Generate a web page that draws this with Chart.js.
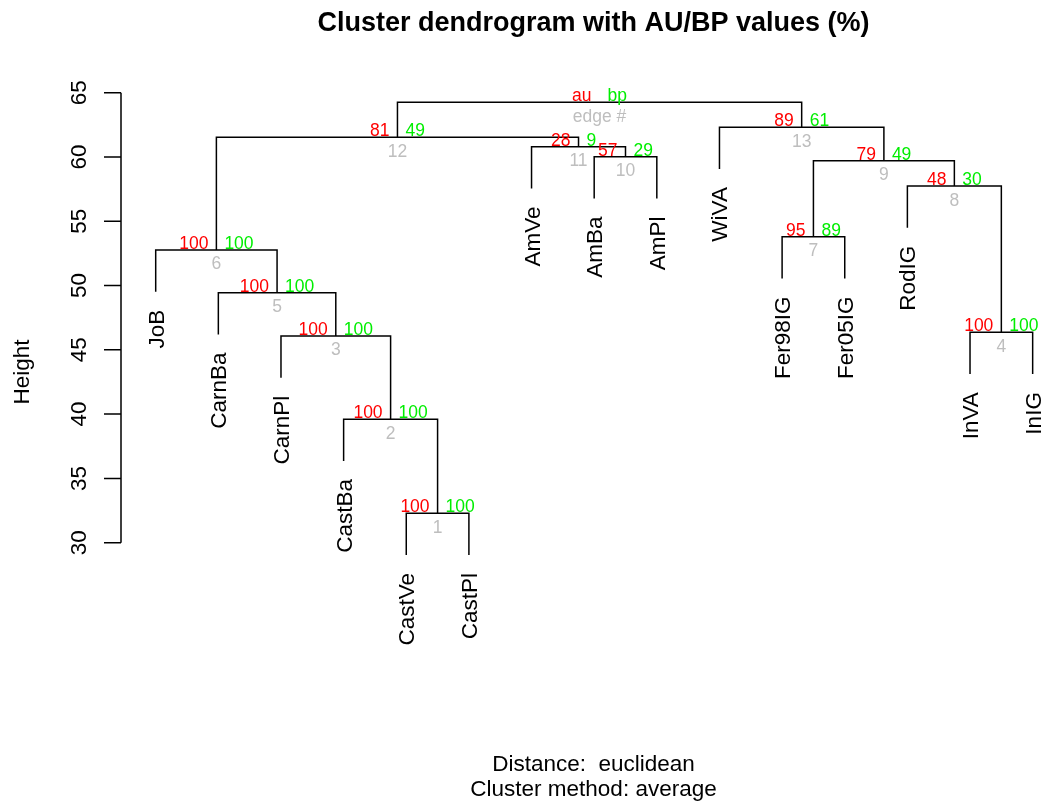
<!DOCTYPE html>
<html>
<head>
<meta charset="utf-8">
<script src="https://cdn.jsdelivr.net/npm/chart.js@4"></script>
<style>
  body { margin: 0; background: #fff; }
</style>
</head>
<body>
<canvas id="c" width="1044" height="803"></canvas>
<script>
// leaves, in the order they are drawn
const leafLabels = ["JoB", "CarnBa", "CarnPl", "CastBa", "CastVe", "CastPl", "AmVe", "AmBa", "AmPl",
                    "WiVA", "Fer98IG", "Fer05IG", "RodIG", "InVA", "InIG"];
// merges like R's hclust: negative = leaf position, positive = earlier merge (edge #)
const mergeLeft  = [-5, -4, -3, -14, -2, -1, -11, -13, 7, -8, -7, 6, -10, 12];
const mergeRight = [-6,  1,  2, -15,  3,  5, -12,   4, 8, -9, 10, 11,  9, 13];
const mergeHeights = [32.29, 39.60, 46.08, 46.36, 49.44, 52.77, 53.80, 57.74, 59.71, 60.02, 60.80, 61.53, 62.31, 64.25];
const auValues = [100, 100, 100, 100, 100, 100, 95, 48, 79, 57, 28, 81, 89];
const bpValues = [100, 100, 100, 100, 100, 100, 89, 30, 49, 29, 9, 49, 61];
const yTicks = [30, 35, 40, 45, 50, 55, 60, 65];
const hang = 3.25;

const FONT = '"Liberation Sans", Arial, sans-serif';
const RED = '#ff0000', GREEN = '#00ee00', GRAY = '#bebebe';

// x position (leaf order units) of every merge
const mergeX = [];
const leafParentH = [];
function nodeX(n) { return n < 0 ? -n : mergeX[n - 1]; }
for (let i = 0; i < mergeHeights.length; i++) {
  mergeX.push((nodeX(mergeLeft[i]) + nodeX(mergeRight[i])) / 2);
  [mergeLeft[i], mergeRight[i]].forEach(n => { if (n < 0) leafParentH[-n - 1] = mergeHeights[i]; });
}
function nodeBottom(n, h) { return n < 0 ? h - hang : mergeHeights[n - 1]; }

const datasets = mergeHeights.map((h, i) => {
  const a = mergeLeft[i], b = mergeRight[i];
  return {
    data: [
      { x: nodeX(a), y: nodeBottom(a, h) },
      { x: nodeX(a), y: h },
      { x: nodeX(b), y: h },
      { x: nodeX(b), y: nodeBottom(b, h) }
    ],
    showLine: true,
    borderColor: '#000',
    borderWidth: 1.5,
    pointRadius: 0,
    fill: false,
    tension: 0
  };
});

const textPlugin = {
  id: 'dendroText',
  afterDraw(chart) {
    const ctx = chart.ctx, xs = chart.scales.x, ys = chart.scales.y;
    ctx.save();
    ctx.fillStyle = '#000';

    // title + sub text
    ctx.textAlign = 'center';
    ctx.textBaseline = 'alphabetic';
    ctx.font = 'bold 27px ' + FONT;
    ctx.fillText('Cluster dendrogram with AU/BP values (%)', 593.5, 31);
    ctx.font = '22.5px ' + FONT;
    ctx.fillText('Distance:  euclidean', 593.5, 771);
    ctx.fillText('Cluster method: average', 593.5, 796);

    // y axis
    const ax = xs.left;
    ctx.strokeStyle = '#000';
    ctx.lineWidth = 1.5;
    ctx.beginPath();
    ctx.moveTo(ax, ys.getPixelForValue(yTicks[0]));
    ctx.lineTo(ax, ys.getPixelForValue(yTicks[yTicks.length - 1]));
    yTicks.forEach(t => {
      const py = ys.getPixelForValue(t);
      ctx.moveTo(ax, py);
      ctx.lineTo(ax - 17, py);
    });
    ctx.stroke();
    yTicks.forEach(t => {
      ctx.save();
      ctx.translate(86, ys.getPixelForValue(t));
      ctx.rotate(-Math.PI / 2);
      ctx.fillText(String(t), 0, 0);
      ctx.restore();
    });
    ctx.save();
    ctx.translate(29, 372);
    ctx.rotate(-Math.PI / 2);
    ctx.fillText('Height', 0, 0);
    ctx.restore();

    // leaf labels
    ctx.textAlign = 'right';
    leafLabels.forEach((lab, i) => {
      const px = xs.getPixelForValue(i + 1);
      const py = ys.getPixelForValue(leafParentH[i] - hang);
      ctx.save();
      ctx.translate(px + 8, py + 18);
      ctx.rotate(-Math.PI / 2);
      ctx.fillText(lab, 0, 0);
      ctx.restore();
    });

    // au / bp / edge #
    ctx.font = '17.5px ' + FONT;
    mergeHeights.forEach((h, i) => {
      const px = xs.getPixelForValue(mergeX[i]);
      const py = ys.getPixelForValue(h);
      const root = i === mergeHeights.length - 1;
      ctx.textAlign = 'right';
      ctx.fillStyle = RED;
      ctx.fillText(root ? 'au' : String(auValues[i]), px - 8, py - 1);
      ctx.textAlign = 'left';
      ctx.fillStyle = GREEN;
      ctx.fillText(root ? 'bp' : String(bpValues[i]), px + 8, py - 1);
      ctx.textAlign = 'center';
      ctx.fillStyle = GRAY;
      ctx.fillText(root ? 'edge #' : String(i + 1), px, py + 19.5);
    });
    ctx.restore();
  }
};

new Chart(document.getElementById('c'), {
  type: 'scatter',
  data: { datasets: datasets },
  options: {
    responsive: false,
    devicePixelRatio: 1,
    animation: false,
    layout: { padding: { left: 121, right: 0, top: 79.84, bottom: 183.2 } },
    scales: {
      x: { type: 'linear', min: 0.446, max: 15.181, display: false },
      y: { type: 'linear', min: 24, max: 66, display: false }
    },
    plugins: { legend: { display: false }, tooltip: { enabled: false } }
  },
  plugins: [textPlugin]
});
</script>
</body>
</html>
